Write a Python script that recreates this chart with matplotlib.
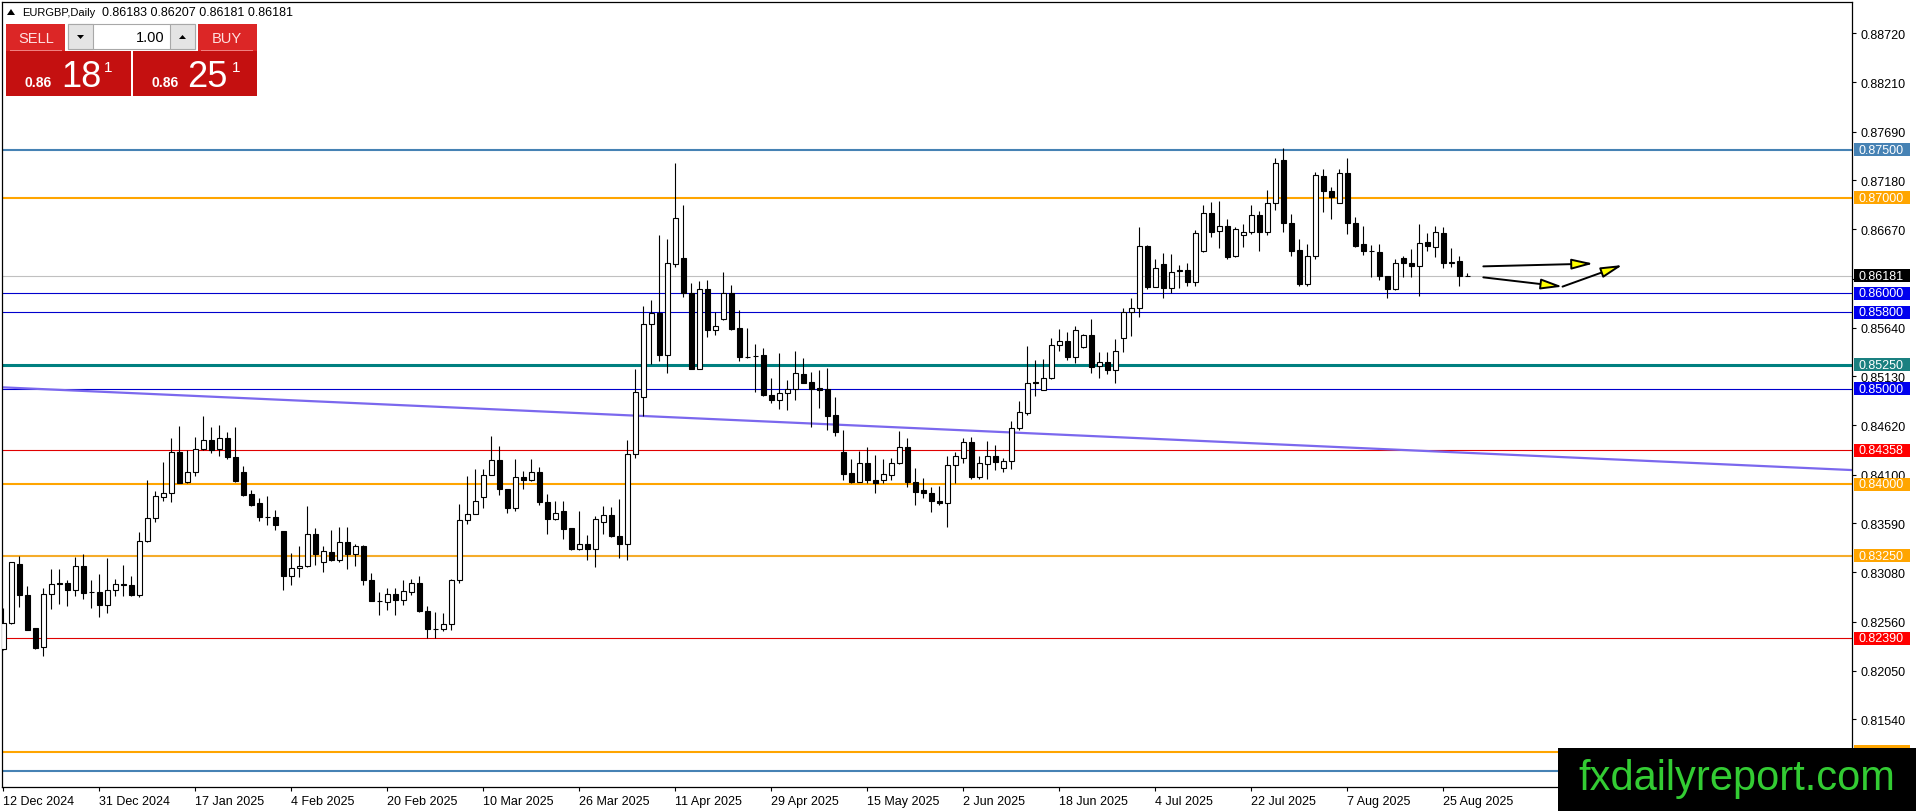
import matplotlib
matplotlib.use("Agg")
import matplotlib.pyplot as plt
import matplotlib.transforms as mtransforms
from matplotlib.patches import Rectangle, Polygon, FancyArrowPatch
import numpy as np

plt.rcParams['font.family'] = ['Liberation Sans', 'DejaVu Sans']

# EURGBP daily candles, 12 Dec 2024 .. 29 Aug 2025
opens = [
    0.8228, 0.8255, 0.8317, 0.8284, 0.8250, 0.8230, 0.8285, 0.8297, 0.8297, 0.8289,
    0.8315, 0.8287, 0.8287, 0.8274, 0.8289, 0.8296, 0.8295, 0.8284, 0.8341, 0.8365,
    0.8387, 0.8391, 0.8434, 0.8402, 0.8413, 0.8437, 0.8446, 0.8437, 0.8448, 0.8429,
    0.8413, 0.8390, 0.8380, 0.8366, 0.8366, 0.8351, 0.8304, 0.8312, 0.8314, 0.8348,
    0.8319, 0.8329, 0.8321, 0.8340, 0.8327, 0.8335, 0.8300, 0.8278, 0.8277, 0.8285,
    0.8279, 0.8287, 0.8297, 0.8267, 0.8249, 0.8249, 0.8254, 0.8300, 0.8363, 0.8369,
    0.8387, 0.8410, 0.8425, 0.8395, 0.8375, 0.8408, 0.8404, 0.8413, 0.8381, 0.8364,
    0.8372, 0.8354, 0.8332, 0.8337, 0.8332, 0.8361, 0.8368, 0.8346, 0.8337, 0.8432,
    0.8491, 0.8568, 0.8579, 0.8535, 0.8631, 0.8637, 0.8600, 0.8521, 0.8604, 0.8561,
    0.8573, 0.8600, 0.8564, 0.8533, 0.8534, 0.8535, 0.8493, 0.8488, 0.8496, 0.8500,
    0.8515, 0.8507, 0.8501, 0.8500, 0.8473, 0.8434, 0.8412, 0.8402, 0.8422, 0.8404,
    0.8405, 0.8410, 0.8422, 0.8439, 0.8402, 0.8394, 0.8391, 0.8383, 0.8380, 0.8420,
    0.8428, 0.8444, 0.8408, 0.8421, 0.8430, 0.8417, 0.8424, 0.8459, 0.8475, 0.8507,
    0.8499, 0.8511, 0.8546, 0.8550, 0.8533, 0.8544, 0.8556, 0.8524, 0.8528, 0.8520,
    0.8553, 0.8580, 0.8584, 0.8649, 0.8607, 0.8631, 0.8605, 0.8623, 0.8624, 0.8612,
    0.8644, 0.8684, 0.8665, 0.8670, 0.8639, 0.8661, 0.8664, 0.8682, 0.8664, 0.8694,
    0.8739, 0.8674, 0.8645, 0.8610, 0.8639, 0.8723, 0.8707, 0.8694, 0.8726, 0.8674,
    0.8652, 0.8644, 0.8643, 0.8618, 0.8604, 0.8637, 0.8632, 0.8628, 0.8654, 0.8648,
    0.8663, 0.8632, 0.8634, 0.86183,
]
highs = [
    0.8270, 0.8319, 0.8325, 0.8294, 0.8250, 0.8291, 0.8311, 0.8311, 0.8300, 0.8324,
    0.8327, 0.8300, 0.8306, 0.8323, 0.8301, 0.8316, 0.8304, 0.8350, 0.8405, 0.8393,
    0.8423, 0.8448, 0.8461, 0.8436, 0.8450, 0.8472, 0.8460, 0.8462, 0.8455, 0.8460,
    0.8419, 0.8394, 0.8386, 0.8388, 0.8373, 0.8351, 0.8328, 0.8335, 0.8377, 0.8354,
    0.8335, 0.8352, 0.8355, 0.8355, 0.8337, 0.8336, 0.8307, 0.8287, 0.8291, 0.8291,
    0.8300, 0.8301, 0.8304, 0.8273, 0.8266, 0.8265, 0.8301, 0.8379, 0.8409, 0.8416,
    0.8416, 0.8451, 0.8440, 0.8395, 0.8426, 0.8414, 0.8426, 0.8418, 0.8390, 0.8383,
    0.8383, 0.8354, 0.8372, 0.8347, 0.8367, 0.8377, 0.8376, 0.8385, 0.8446, 0.8521,
    0.8587, 0.8593, 0.8661, 0.8657, 0.8736, 0.8692, 0.8611, 0.8613, 0.8614, 0.8580,
    0.8622, 0.8609, 0.8582, 0.8564, 0.8547, 0.8543, 0.8511, 0.8537, 0.8509, 0.8540,
    0.8532, 0.8518, 0.8520, 0.8522, 0.8491, 0.8457, 0.8426, 0.8435, 0.8439, 0.8431,
    0.8426, 0.8428, 0.8456, 0.8448, 0.8417, 0.8407, 0.8397, 0.8398, 0.8430, 0.8434,
    0.8448, 0.8449, 0.8430, 0.8445, 0.8441, 0.8428, 0.8466, 0.8487, 0.8545, 0.8530,
    0.8531, 0.8553, 0.8563, 0.8559, 0.8566, 0.8557, 0.8573, 0.8538, 0.8538, 0.8552,
    0.8585, 0.8595, 0.8669, 0.8650, 0.8636, 0.8642, 0.8641, 0.8630, 0.8632, 0.8666,
    0.8692, 0.8695, 0.8697, 0.8678, 0.8669, 0.8672, 0.8692, 0.8686, 0.8708, 0.8742,
    0.8752, 0.8683, 0.8657, 0.8651, 0.8727, 0.8730, 0.8711, 0.8730, 0.8742, 0.8680,
    0.8670, 0.8650, 0.8652, 0.8618, 0.8636, 0.8639, 0.8646, 0.8672, 0.8663, 0.8670,
    0.8669, 0.8647, 0.8639, 0.86207,
]
lows = [
    0.8227, 0.8254, 0.8272, 0.8248, 0.8228, 0.8220, 0.8269, 0.8275, 0.8273, 0.8283,
    0.8280, 0.8270, 0.8261, 0.8265, 0.8283, 0.8283, 0.8283, 0.8282, 0.8340, 0.8361,
    0.8383, 0.8381, 0.8401, 0.8401, 0.8409, 0.8436, 0.8433, 0.8430, 0.8426, 0.8402,
    0.8388, 0.8377, 0.8362, 0.8357, 0.8352, 0.8289, 0.8295, 0.8303, 0.8313, 0.8316,
    0.8308, 0.8320, 0.8319, 0.8311, 0.8314, 0.8295, 0.8278, 0.8263, 0.8268, 0.8263,
    0.8274, 0.8284, 0.8266, 0.8239, 0.8239, 0.8246, 0.8248, 0.8297, 0.8358, 0.8369,
    0.8375, 0.8410, 0.8389, 0.8370, 0.8372, 0.8395, 0.8403, 0.8378, 0.8348, 0.8363,
    0.8343, 0.8331, 0.8331, 0.8321, 0.8313, 0.8348, 0.8345, 0.8323, 0.8321, 0.8428,
    0.8472, 0.8526, 0.8529, 0.8517, 0.8627, 0.8596, 0.8521, 0.8521, 0.8554, 0.8556,
    0.8572, 0.8561, 0.8529, 0.8532, 0.8497, 0.8492, 0.8485, 0.8479, 0.8478, 0.8488,
    0.8506, 0.8460, 0.8480, 0.8457, 0.8451, 0.8404, 0.8401, 0.8402, 0.8401, 0.8391,
    0.8401, 0.8404, 0.8421, 0.8397, 0.8378, 0.8386, 0.8371, 0.8378, 0.8355, 0.8401,
    0.8422, 0.8406, 0.8406, 0.8406, 0.8415, 0.8413, 0.8416, 0.8457, 0.8473, 0.8492,
    0.8499, 0.8510, 0.8539, 0.8530, 0.8527, 0.8543, 0.8517, 0.8511, 0.8515, 0.8506,
    0.8538, 0.8555, 0.8575, 0.8604, 0.8606, 0.8595, 0.8600, 0.8605, 0.8608, 0.8608,
    0.8643, 0.8659, 0.8647, 0.8636, 0.8638, 0.8648, 0.8662, 0.8644, 0.8661, 0.8687,
    0.8664, 0.8639, 0.8608, 0.8608, 0.8636, 0.8685, 0.8678, 0.8694, 0.8662, 0.8648,
    0.8640, 0.8617, 0.8614, 0.8595, 0.8603, 0.8617, 0.8617, 0.8597, 0.8644, 0.8638,
    0.8626, 0.8627, 0.8608, 0.86181,
]
closes = [
    0.8255, 0.8319, 0.8284, 0.8248, 0.8229, 0.8285, 0.8296, 0.8296, 0.8289, 0.8315,
    0.8286, 0.8287, 0.8274, 0.8289, 0.8296, 0.8295, 0.8284, 0.8341, 0.8365, 0.8388,
    0.8391, 0.8434, 0.8401, 0.8413, 0.8437, 0.8446, 0.8436, 0.8448, 0.8429, 0.8403,
    0.8389, 0.8378, 0.8366, 0.8366, 0.8357, 0.8304, 0.8312, 0.8315, 0.8348, 0.8327,
    0.8330, 0.8321, 0.8340, 0.8327, 0.8335, 0.8300, 0.8278, 0.8278, 0.8285, 0.8279,
    0.8288, 0.8297, 0.8267, 0.8249, 0.8249, 0.8254, 0.8300, 0.8363, 0.8369, 0.8382,
    0.8410, 0.8425, 0.8395, 0.8375, 0.8408, 0.8404, 0.8413, 0.8381, 0.8364, 0.8370,
    0.8353, 0.8332, 0.8337, 0.8332, 0.8364, 0.8368, 0.8346, 0.8337, 0.8432, 0.8497,
    0.8568, 0.8579, 0.8535, 0.8632, 0.8679, 0.8600, 0.8521, 0.8604, 0.8561, 0.8566,
    0.8600, 0.8563, 0.8533, 0.8533, 0.8534, 0.8493, 0.8488, 0.8496, 0.8500, 0.8516,
    0.8506, 0.8500, 0.8499, 0.8472, 0.8455, 0.8411, 0.8402, 0.8422, 0.8404, 0.8401,
    0.8411, 0.8422, 0.8439, 0.8402, 0.8392, 0.8391, 0.8383, 0.8380, 0.8420, 0.8430,
    0.8444, 0.8408, 0.8422, 0.8430, 0.8423, 0.8424, 0.8459, 0.8476, 0.8506, 0.8506,
    0.8511, 0.8546, 0.8550, 0.8533, 0.8562, 0.8556, 0.8523, 0.8528, 0.8520, 0.8540,
    0.8580, 0.8584, 0.8649, 0.8607, 0.8626, 0.8605, 0.8622, 0.8624, 0.8612, 0.8663,
    0.8684, 0.8664, 0.8670, 0.8638, 0.8667, 0.8664, 0.8682, 0.8664, 0.8694, 0.8736,
    0.8674, 0.8644, 0.8610, 0.8639, 0.8724, 0.8707, 0.8701, 0.8726, 0.8674, 0.8649,
    0.8644, 0.8644, 0.8618, 0.8604, 0.8632, 0.8632, 0.8628, 0.8653, 0.8649, 0.8664,
    0.8632, 0.8633, 0.8618, 0.86181,
]

date_labels = ['12 Dec 2024', '31 Dec 2024', '17 Jan 2025', '4 Feb 2025', '20 Feb 2025',
               '10 Mar 2025', '26 Mar 2025', '11 Apr 2025', '29 Apr 2025', '15 May 2025',
               '2 Jun 2025', '18 Jun 2025', '4 Jul 2025', '22 Jul 2025', '7 Aug 2025',
               '25 Aug 2025']
bars_per_label = 12

price_ticks = [0.81020, 0.81540, 0.82050, 0.82560, 0.83080, 0.83590, 0.84100, 0.84620,
               0.85130, 0.85640, 0.86150, 0.86670, 0.87180, 0.87690, 0.88210, 0.88720]
# these sit under the bid label or the logo, so they show no text
hidden_ticks = [0.81020, 0.86150]

# horizontal levels
levels = [0.87500, 0.87000, 0.86000, 0.85800, 0.85250, 0.85000,
          0.84358, 0.84000, 0.83250, 0.82390, 0.81200, 0.81000]
level_colors = ['#4682b4', '#ffa500', '#0000cd', '#0000cd', '#008080', '#0000cd',
                '#e00000', '#ffa500', '#f5ac2a', '#e00000', '#ffa500', '#4682b4']
level_widths = [1.5, 1.5, 0.8, 0.8, 2.2, 0.8, 0.8, 1.5, 1.5, 0.8, 1.5, 1.5]
label_colors = ['#4682b4', '#ffa500', '#0000ee', '#0000ee', '#1a8080', '#0000ee',
                '#ff0000', '#ffa500', '#ffa500', '#ff0000', '#ffa500', '#4682b4']
# price labels covered by the logo box
covered_levels = [0.81200, 0.81000]
bid = 0.86181

# descending trend line (value at left and right edge of the chart)
trend_start = 0.85015
trend_end = 0.84149

# projection arrows drawn on the right
arrow_flat = [(185.0, 0.86281), (198.75, 0.86310)]
arrow_bend = [(185.0, 0.86166), (194.9, 0.86069), (202.4, 0.86295)]

W, H = 1916, 812
fig = plt.figure(figsize=(W / 100, H / 100), dpi=100)
ax_left, ax_right, ax_top, ax_bot = 2.3, 1852, 2.67, 787.7
ax = fig.add_axes([ax_left / W, 1 - ax_bot / H, (ax_right - ax_left) / W, (ax_bot - ax_top) / H])

x0 = (ax_left - 3.33) / 8
x1 = (ax_right - 3.33) / 8
ax.set_xlim(x0, x1)
ppx = (0.88720 - 0.81540) / (720.33 - 34.33)
ax.set_ylim(0.88720 - (ax_bot - 34.33) * ppx, 0.88720 + (34.33 - ax_top) * ppx)

# levels and bid line
for lv, col, lw in zip(levels, level_colors, level_widths):
    ax.axhline(lv, color=col, lw=lw, zorder=1)
ax.axhline(bid, color='#c0c0c0', lw=0.8, zorder=1)
ax.plot([x0, x1], [trend_start, trend_end], color='#7b68ee', lw=1.6, zorder=1.5)

# candles
idx = np.arange(len(opens))
o = np.array(opens)
c = np.array(closes)
ax.vlines(idx, lows, highs, color='black', lw=0.8, zorder=2)
bottoms = np.minimum(o, c)
heights = np.abs(c - o)
faces = ['white' if cc >= oo else 'black' for oo, cc in zip(o, c)]
ax.bar(idx, heights, bottom=bottoms, width=0.6, color=faces, edgecolor='black',
       linewidth=0.8, zorder=3)

# arrows
def arrow(p, q):
    a = FancyArrowPatch(p, q, arrowstyle='-|>,head_length=13,head_width=3.2',
                        mutation_scale=1, fc='#ffff00', ec='black', lw=1.4,
                        shrinkA=0, shrinkB=0, zorder=6)
    ax.add_patch(a)

arrow(arrow_flat[0], arrow_flat[1])
arrow(arrow_bend[0], arrow_bend[1])
arrow(arrow_bend[1], arrow_bend[2])

# axes styling
ax.yaxis.tick_right()
ax.set_yticks(price_ticks)
ax.set_yticklabels(['' if p in hidden_ticks else '%.5f' % p for p in price_ticks])
ax.set_xticks(np.arange(len(date_labels)) * bars_per_label)
ax.set_xticklabels(date_labels, ha='left')
ax.tick_params(axis='y', direction='out', length=3, pad=3, labelsize=9, width=0.8)
ax.tick_params(axis='x', direction='out', length=3, pad=3, labelsize=9, width=0.8)
for s in ax.spines.values():
    s.set_linewidth(0.9)

# price labels on the right axis
pix_x = mtransforms.Affine2D().scale(1 / W, 1) + fig.transFigure
lab_tr = mtransforms.blended_transform_factory(pix_x, ax.transData)
box_h = 13 * ppx
for lv, col in zip(levels + [bid], label_colors + ['black']):
    ax.add_patch(Rectangle((1854, lv - box_h / 2), 56, box_h, transform=lab_tr,
                           facecolor=col, edgecolor='none', clip_on=False, zorder=4))
    if lv in covered_levels:
        continue
    ax.text(1859, lv, '%.5f' % lv, transform=lab_tr, color='white', fontsize=9,
            va='center', ha='left', clip_on=False, zorder=5)

# overlay elements in pixel coordinates (origin top-left)
pix = mtransforms.Affine2D().scale(1 / W, -1 / H).translate(0, 1) + fig.transFigure

fig.add_artist(Polygon([(7, 16), (15, 16), (11, 10)], closed=True, transform=pix,
                       facecolor='black', edgecolor='none'))
fig.text(22, 13, 'EURGBP,Daily', transform=pix, fontsize=8, va='center', ha='left')
fig.text(102, 13, '0.86183 0.86207 0.86181 0.86181', transform=pix, fontsize=9,
         va='center', ha='left')

red_top = '#dc2626'
red_box = '#c41010'
fig.add_artist(Rectangle((6, 25), 59, 27, transform=pix, facecolor=red_top, edgecolor='none'))
fig.add_artist(Rectangle((198, 25), 59, 27, transform=pix, facecolor=red_top, edgecolor='none'))
fig.add_artist(Rectangle((6, 52), 125, 45, transform=pix, facecolor=red_box, edgecolor='none'))
fig.add_artist(Rectangle((133, 52), 124, 45, transform=pix, facecolor=red_box, edgecolor='none'))
fig.add_artist(Rectangle((10, 51), 52, 1, transform=pix, facecolor='#f08080', edgecolor='none'))
fig.add_artist(Rectangle((201, 51), 52, 1, transform=pix, facecolor='#f08080', edgecolor='none'))
fig.add_artist(Rectangle((68, 25), 127, 25, transform=pix, facecolor='white', edgecolor='#a8a8a8', lw=0.8))
fig.add_artist(Rectangle((68, 25), 25, 25, transform=pix, facecolor='#e4e4e4', edgecolor='#a8a8a8', lw=0.8))
fig.add_artist(Rectangle((170, 25), 25, 25, transform=pix, facecolor='#e4e4e4', edgecolor='#a8a8a8', lw=0.8))
fig.add_artist(Polygon([(77, 36), (84, 36), (80.5, 40)], closed=True, transform=pix,
                       facecolor='black', edgecolor='none'))
fig.add_artist(Polygon([(179, 40), (186, 40), (182.5, 36)], closed=True, transform=pix,
                       facecolor='black', edgecolor='none'))
fig.text(165, 38, '1.00', transform=pix, fontsize=10.5, va='center', ha='right')
fig.text(36, 39, 'SELL', transform=pix, fontsize=10.5, va='center', ha='center', color='#ffe0e0')
fig.text(227, 39, 'BUY', transform=pix, fontsize=10.5, va='center', ha='center', color='#ffe0e0')
for x_small, x_big, x_sup, big in [(25, 61, 104, '18'), (152, 187, 232, '25')]:
    fig.text(x_small, 87, '0.86', transform=pix, fontsize=10, fontweight='bold',
             color='white', va='baseline', ha='left')
    fig.text(x_big, 87, big, transform=pix, fontsize=26, color='white',
             va='baseline', ha='left')
    fig.text(x_sup, 72, '1', transform=pix, fontsize=11, color='white',
             va='baseline', ha='left')

# watermark
fig.add_artist(Rectangle((1558, 749), 358, 63, transform=pix, facecolor='black', edgecolor='none'))
fig.text(1737, 790, 'fxdailyreport.com', transform=pix, fontsize=30, color='#33cc33',
         va='baseline', ha='center')

fig.savefig('out.png', dpi=100)
